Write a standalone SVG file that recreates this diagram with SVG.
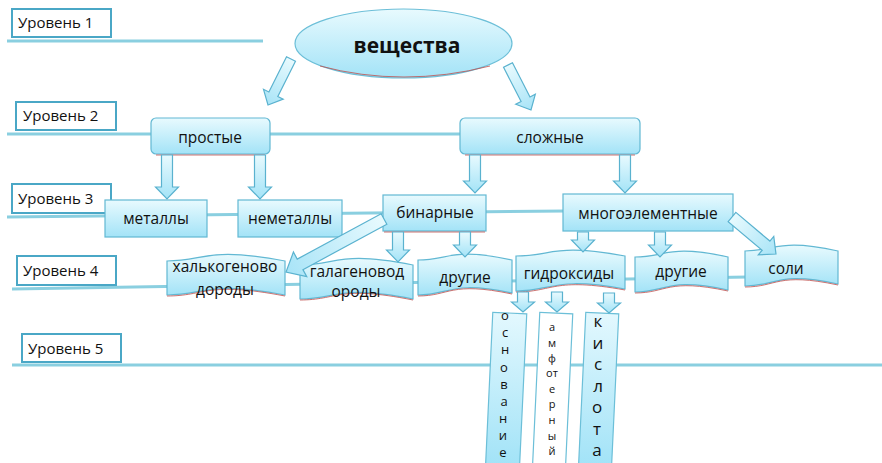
<svg xmlns="http://www.w3.org/2000/svg" width="882" height="463" viewBox="0 0 882 463">
<defs>
<linearGradient id="g" x1="0" y1="0" x2="0" y2="1">
<stop offset="0" stop-color="#e8fafe"/>
<stop offset="1" stop-color="#a3e3f7"/>
</linearGradient>
<linearGradient id="ga" x1="0" y1="0" x2="1" y2="0">
<stop offset="0" stop-color="#e8fafe"/>
<stop offset="1" stop-color="#a8e4f7"/>
</linearGradient>
<linearGradient id="gv" x1="0" y1="0" x2="0" y2="1">
<stop offset="0" stop-color="#e3f8fe"/>
<stop offset="1" stop-color="#9fe2f7"/>
</linearGradient>
</defs>
<style>
text{font-family:"Open Sans","Noto Sans",sans-serif;fill:#111}
.lvl{fill:#fff;stroke:#4aa7c6;stroke-width:2}
.lt{font-size:15px}
.line{stroke:#8acfe0;stroke-width:3;fill:none}
.node{fill:url(#g);stroke:#62b8d3;stroke-width:1.2}
.red{fill:none;stroke:#c0504d;stroke-width:1;opacity:0.8}
.nt{font-size:15.5px;text-anchor:middle}
.arr{fill:url(#g);stroke:#5ab2cf;stroke-width:1.2}
.darr{fill:url(#ga);stroke:#5ab2cf;stroke-width:1.2}
.vl{text-anchor:middle}
</style>

<g id="levels">
<line class="line" x1="7" y1="41" x2="263" y2="41"/>
<line class="line" x1="7" y1="134" x2="462" y2="134"/>
<line class="line" x1="7" y1="217" x2="565" y2="211"/>
<line class="line" x1="12" y1="289" x2="748" y2="277"/>
<line class="line" x1="12" y1="365" x2="882" y2="365"/>
<g id="level1"><rect class="lvl" x="12" y="9" width="99" height="28"/><text class="lt" x="18" y="28">Уровень 1</text></g>
<g id="level2"><rect class="lvl" x="16" y="102" width="100" height="28"/><text class="lt" x="23" y="121">Уровень 2</text></g>
<g id="level3"><rect class="lvl" x="12" y="184" width="99" height="29"/><text class="lt" x="18" y="204">Уровень 3</text></g>
<g id="level4"><rect class="lvl" x="17" y="256" width="99" height="29"/><text class="lt" x="23" y="276">Уровень 4</text></g>
<g id="level5"><rect class="lvl" x="22" y="334" width="99" height="28"/><text class="lt" x="28" y="354">Уровень 5</text></g>
</g>

<g id="veshestva">
<ellipse cx="403.5" cy="43.5" rx="108.5" ry="34.5" fill="url(#g)" stroke="#6cbfd8" stroke-width="1.2"/>
<path class="red" d="M320,66 Q403,88 490,66"/>
<text x="407" y="53" font-size="21" font-weight="bold" text-anchor="middle">вещества</text>
</g>

<g id="prostye">
<rect class="node" x="151" y="118" width="119" height="36" rx="5"/>
<line class="red" x1="156" y1="155" x2="265" y2="155"/>
<text class="nt" x="210" y="143">простые</text>
</g>
<g id="slozhnye">
<rect class="node" x="460" y="118" width="180" height="36" rx="5"/>
<line class="red" x1="465" y1="155" x2="635" y2="155"/>
<text class="nt" x="550" y="143">сложные</text>
</g>

<g id="metally">
<rect class="node" x="105" y="200" width="102" height="37"/>
<text class="nt" x="156" y="224">металлы</text>
</g>
<g id="nemetally">
<rect class="node" x="238" y="200" width="104" height="37"/>
<text class="nt" x="290" y="224">неметаллы</text>
</g>
<g id="binarnye">
<rect class="node" x="383" y="195" width="103" height="36"/>
<line class="red" x1="384" y1="232" x2="485" y2="232"/>
<text class="nt" x="435" y="218">бинарные</text>
</g>
<g id="mnogoelementnye">
<rect class="node" x="563" y="194" width="170" height="37"/>
<text class="nt" x="648" y="219">многоэлементные</text>
</g>

<g id="halkogen">
<path class="node" d="M167,261 C206,261 206,246 285,261 L285,295 C206,280 206,295 167,295 Z"/>
<path class="red" d="M285,296 C206,281 206,296 167,296"/>
<text class="nt" x="225" y="272">халькогеново</text>
<text class="nt" x="225" y="295">дороды</text>
</g>
<g id="galagen">
<path class="node" d="M300,265 C338,265 338,250 413,265 L413,299 C338,284 338,299 300,299 Z"/>
<path class="red" d="M413,300 C338,285 338,300 300,300"/>
<text class="nt" x="357" y="277">галагеновод</text>
<text class="nt" x="356" y="297">ороды</text>
</g>
<g id="drugie1">
<path class="node" d="M418,260 C450,260 450,247 512,260 L512,293 C450,280 450,295 418,295 Z"/>
<path class="red" d="M512,294 C450,281 450,296 418,296"/>
<text class="nt" x="465" y="283">другие</text>
</g>
<g id="gidroksidy">
<path class="node" d="M516,256 C553,256 553,243 625,256 L625,289 C553,276 553,291 516,291 Z"/>
<path class="red" d="M625,290 C553,277 553,292 516,292"/>
<text class="nt" x="569" y="279">гидроксиды</text>
</g>
<g id="drugie2">
<path class="node" d="M635,257 C667,257 667,244 728,257 L728,290 C667,277 667,292 635,292 Z"/>
<path class="red" d="M728,291 C667,278 667,293 635,293"/>
<text class="nt" x="681" y="277">другие</text>
</g>
<g id="soli">
<path class="node" d="M745,251 C777,251 777,238 838,251 L838,284 C777,271 777,286 745,286 Z"/>
<path class="red" d="M838,285 C777,272 777,287 745,287"/>
<text class="nt" x="786" y="274">соли</text>
</g>

<g id="osnovanie">
<rect x="489" y="313" width="34" height="160" fill="url(#gv)" stroke="#6cbfd8" stroke-width="1.2" transform="rotate(2.7 506 393)"/>
<g class="vl" font-size="13">
<text x="505" y="320">о</text><text x="505" y="337">с</text><text x="505" y="354">н</text><text x="504" y="372">о</text><text x="504" y="389">в</text><text x="504" y="406">а</text><text x="503" y="423">н</text><text x="503" y="440">и</text><text x="503" y="457">е</text>
</g>
</g>
<g id="amfoternyi">
<rect x="536" y="313" width="33" height="160" fill="#fff" stroke="#6cbfd8" stroke-width="1.2" transform="rotate(2.7 552 393)"/>
<g class="vl" font-size="11">
<text x="552" y="331">а</text><text x="552" y="347">м</text><text x="552" y="362">ф</text><text x="552" y="377">от</text><text x="552" y="393">е</text><text x="552" y="408">р</text><text x="552" y="424">н</text><text x="552" y="440">ы</text><text x="552" y="455">й</text>
</g>
</g>
<g id="kislota">
<rect x="582" y="313" width="33" height="160" fill="url(#gv)" stroke="#6cbfd8" stroke-width="1.2" transform="rotate(2.7 598 393)"/>
<g class="vl" font-size="17">
<text x="598" y="327">к</text><text x="598" y="348.5">и</text><text x="598" y="370">с</text><text x="598" y="391.5">л</text><text x="597" y="413">о</text><text x="597" y="434.5">т</text><text x="597" y="456">а</text>
</g>
</g>

<g id="connectors">
<path class="darr" d="M0,-5 H39.4 V-11 L51.4,0 L39.4,11 V5 H0 Z" transform="translate(291 59) rotate(116.6)"/>
<path class="darr" d="M0,-5 H38.5 V-11 L50.5,0 L38.5,11 V5 H0 Z" transform="translate(508 65) rotate(62.9)"/>
<path class="darr" d="M0,-6 H95.4 V-14 L111.4,0 L95.4,14 V6 H0 Z" transform="translate(384 219) rotate(151.6)"/>
<path class="darr" d="M0,-6 H44.5 V-12 L57.5,0 L44.5,12 V6 H0 Z" transform="translate(732 217) rotate(40.1)"/>
<path class="arr" d="M161.5,155 L172.5,155 L172.5,187 L178.5,187 L167,199 L155.5,187 L161.5,187 Z"/>
<path class="arr" d="M254.5,155 L265.5,155 L265.5,187 L271.5,187 L260,199 L248.5,187 L254.5,187 Z"/>
<path class="arr" d="M469.5,155 L480.5,155 L480.5,181 L486.5,181 L475,193 L463.5,181 L469.5,181 Z"/>
<path class="arr" d="M619.5,155 L630.5,155 L630.5,181 L636.5,181 L625,193 L613.5,181 L619.5,181 Z"/>
<path class="arr" d="M392.5,232 L403.5,232 L403.5,250 L409.5,250 L398,262 L386.5,250 L392.5,250 Z"/>
<path class="arr" d="M459.5,232 L470.5,232 L470.5,245 L476.5,245 L465,257 L453.5,245 L459.5,245 Z"/>
<path class="arr" d="M577.5,232 L588.5,232 L588.5,240 L594.5,240 L583,252 L571.5,240 L577.5,240 Z"/>
<path class="arr" d="M654.5,232 L665.5,232 L665.5,245 L671.5,245 L660,257 L648.5,245 L654.5,245 Z"/>
<path class="arr" d="M517.5,292 L528.5,292 L528.5,302 L534.5,302 L523,312 L511.5,302 L517.5,302 Z"/>
<path class="arr" d="M551.5,292 L562.5,292 L562.5,302 L568.5,302 L557,312 L545.5,302 L551.5,302 Z"/>
<path class="arr" d="M603.5,293 L614.5,293 L614.5,303 L620.5,303 L609,313 L597.5,303 L603.5,303 Z"/>
</g>
</svg>
